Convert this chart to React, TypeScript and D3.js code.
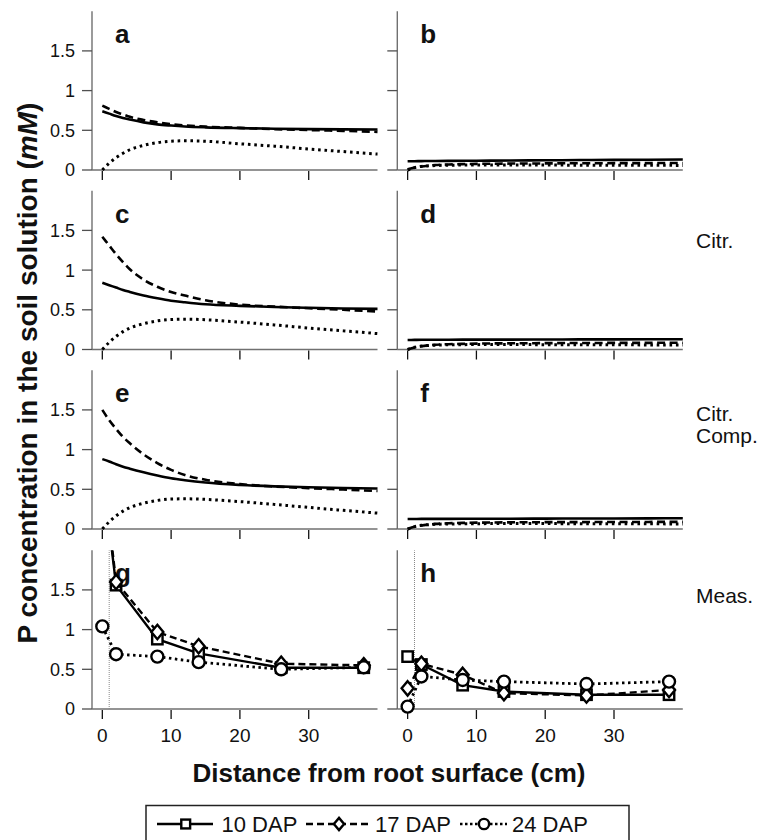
import React from 'react';
import * as d3 from 'd3';

// ---------- data ----------
const SERIES = ['10 DAP', '17 DAP', '24 DAP'];
const X_TICKS = [0, 10, 20, 30];
const Y_TICKS = [0, 0.5, 1, 1.5];
const Y_TICK_LABELS = ['0', '0.5', '1', '1.5'];
const PANEL_LETTERS = ['a', 'b', 'c', 'd', 'e', 'f', 'g', 'h'];
const ROW_LABELS = [[], ['Citr.'], ['Citr.', 'Comp.'], ['Meas.']];

// simulated profiles (panels a-f)
const xCurve = [0, 1, 2, 3, 4, 6, 8, 10, 12, 15, 20, 25, 30, 35, 40];

const a10 = [0.74, 0.71, 0.68, 0.655, 0.635, 0.6, 0.575, 0.56, 0.548, 0.537, 0.527, 0.52, 0.515, 0.512, 0.51];
const a17 = [0.81, 0.77, 0.73, 0.7, 0.67, 0.63, 0.6, 0.578, 0.562, 0.546, 0.53, 0.515, 0.503, 0.493, 0.48];
const a24 = [0, 0.085, 0.155, 0.21, 0.255, 0.31, 0.345, 0.362, 0.368, 0.362, 0.33, 0.3, 0.265, 0.232, 0.2];

const b10 = [0.11, 0.111, 0.112, 0.113, 0.114, 0.115, 0.116, 0.117, 0.118, 0.12, 0.122, 0.125, 0.128, 0.13, 0.132];
const b17 = [0.01, 0.03, 0.045, 0.055, 0.062, 0.07, 0.074, 0.077, 0.079, 0.081, 0.083, 0.085, 0.086, 0.087, 0.088];
const b24 = [0, 0.03, 0.045, 0.052, 0.056, 0.06, 0.062, 0.063, 0.063, 0.063, 0.062, 0.061, 0.06, 0.059, 0.058];

const c10 = [0.84, 0.81, 0.78, 0.75, 0.725, 0.68, 0.645, 0.615, 0.595, 0.57, 0.55, 0.535, 0.525, 0.517, 0.512];
const c17 = [1.42, 1.31, 1.2, 1.1, 1.01, 0.88, 0.79, 0.725, 0.68, 0.62, 0.565, 0.54, 0.52, 0.5, 0.478];
const c24 = [0, 0.09, 0.165, 0.225, 0.27, 0.325, 0.36, 0.378, 0.382, 0.375, 0.345, 0.31, 0.27, 0.235, 0.2];

const d10 = [0.12, 0.121, 0.122, 0.122, 0.123, 0.123, 0.124, 0.124, 0.125, 0.125, 0.126, 0.127, 0.128, 0.129, 0.13];
const d17 = [0.0, 0.025, 0.042, 0.053, 0.06, 0.067, 0.071, 0.074, 0.076, 0.078, 0.08, 0.082, 0.083, 0.084, 0.085];
const d24 = [0, 0.028, 0.043, 0.05, 0.055, 0.059, 0.061, 0.062, 0.062, 0.062, 0.061, 0.06, 0.059, 0.058, 0.057];

const e10 = [0.88, 0.85, 0.815, 0.785, 0.76, 0.715, 0.675, 0.64, 0.615, 0.585, 0.555, 0.537, 0.525, 0.517, 0.51];
const e17 = [1.5, 1.37, 1.26, 1.16, 1.08, 0.94, 0.83, 0.745, 0.68, 0.62, 0.565, 0.535, 0.515, 0.497, 0.478];
const e24 = [0, 0.09, 0.165, 0.225, 0.27, 0.325, 0.36, 0.378, 0.38, 0.373, 0.345, 0.31, 0.272, 0.235, 0.2];

const f10 = [0.125, 0.126, 0.127, 0.127, 0.128, 0.128, 0.129, 0.129, 0.13, 0.13, 0.131, 0.132, 0.133, 0.134, 0.135];
const f17 = [0.0, 0.027, 0.045, 0.056, 0.064, 0.072, 0.077, 0.08, 0.082, 0.084, 0.086, 0.087, 0.088, 0.089, 0.09];
const f24 = [0, 0.03, 0.046, 0.054, 0.059, 0.063, 0.066, 0.067, 0.068, 0.068, 0.068, 0.067, 0.066, 0.065, 0.064];

// measured profiles (panels g-h)
const xMeas = [0, 2, 8, 14, 26, 38];
const g10 = [3.0, 1.56, 0.88, 0.7, 0.52, 0.52];
const g17 = [3.1, 1.6, 0.97, 0.79, 0.57, 0.55];
const g24 = [1.04, 0.69, 0.66, 0.59, 0.5, 0.525];
const h10 = [0.66, 0.56, 0.3, 0.22, 0.18, 0.18];
const h17 = [0.26, 0.57, 0.43, 0.2, 0.17, 0.24];
const h24 = [0.03, 0.41, 0.365, 0.345, 0.315, 0.345];
const ROOT_SURFACE_X = 1;

const SIM = [
  [a10, a17, a24], [b10, b17, b24],
  [c10, c17, c24], [d10, d17, d24],
  [e10, e17, e24], [f10, f17, f24],
];
const MEAS = [[g10, g17, g24], [h10, h17, h24]];

// ---------- layout ----------
const W = 772, H = 840;
const FONT = '"Liberation Sans", Arial, Helvetica, sans-serif';
const COL_X: [number, number][] = [[92, 377.5], [397.3, 682.8]];
const ROW_Y0 = [170, 349.5, 529, 709];
const PANEL_H = 158.8;
const X_DOMAIN: [number, number] = [-1.5, 40];
const Y_DOMAIN: [number, number] = [0, 2];

const STYLES = [
  { dash: undefined as string | undefined, w: 2.6 },
  { dash: '8,4.5', w: 2.6 },
  { dash: '2.6,3.8', w: 3 },
];
const MEAS_STYLES = [
  { dash: undefined as string | undefined, w: 2.4 },
  { dash: '7,4', w: 2.4 },
  { dash: '2.5,3.5', w: 2.8 },
];

function Marker({ kind, x, y, s = 1 }: { kind: number; x: number; y: number; s?: number }) {
  const common = { fill: '#fff', stroke: '#000', strokeWidth: 2.4 };
  if (kind === 0) {
    const h = 5.2 * s;
    return <rect x={x - h} y={y - h} width={2 * h} height={2 * h} {...common} />;
  }
  if (kind === 1) {
    const hw = 6 * s, hh = 7.2 * s;
    return <path d={`M${x},${y - hh}L${x + hw},${y}L${x},${y + hh}L${x - hw},${y}Z`} {...common} />;
  }
  return <circle cx={x} cy={y} r={6 * s} {...common} />;
}

export default function App() {
  const panels: JSX.Element[] = [];
  for (let row = 0; row < 4; row++) {
    for (let col = 0; col < 2; col++) {
      const idx = row * 2 + col;
      const [x0, x1] = COL_X[col];
      const y0 = ROW_Y0[row];
      const yTop = y0 - PANEL_H;
      const x = d3.scaleLinear().domain(X_DOMAIN).range([x0, x1]);
      const y = d3.scaleLinear().domain(Y_DOMAIN).range([y0, yTop]);
      const clipId = `clip-${idx}`;
      const isMeas = row === 3;
      const lineSim = d3.line<[number, number]>().x(d => x(d[0])).y(d => y(d[1])).curve(d3.curveMonotoneX);
      const lineMeas = d3.line<[number, number]>().x(d => x(d[0])).y(d => y(d[1]));

      panels.push(
        <g key={idx}>
          <defs>
            <clipPath id={clipId}>
              <rect x={x0} y={yTop} width={x1 - x0 + 6} height={PANEL_H + 8} />
            </clipPath>
          </defs>
          {/* axes */}
          <line x1={x0} x2={x0} y1={yTop} y2={y0} stroke="#707070" strokeWidth={1.4} />
          <line x1={x0} x2={x1} y1={y0} y2={y0} stroke="#707070" strokeWidth={1.4} />
          {Y_TICKS.map((t, i) => (
            <g key={'yt' + i}>
              <line x1={x0 - 10} x2={x0} y1={y(t)} y2={y(t)} stroke="#505050" strokeWidth={1.3} />
              {col === 0 && (
                <text x={x0 - 17} y={y(t)} dy="0.36em" textAnchor="end" fontSize={18} fontFamily={FONT} fill="#111">
                  {Y_TICK_LABELS[i]}
                </text>
              )}
            </g>
          ))}
          {X_TICKS.map((t, i) => (
            <g key={'xt' + i}>
              <line x1={x(t)} x2={x(t)} y1={y0 + 1} y2={y0 + 10} stroke="#111" strokeWidth={1.3} />
              {isMeas && (
                <text x={x(t)} y={y0 + 32.5} textAnchor="middle" fontSize={19} fontFamily={FONT} fill="#111">
                  {t}
                </text>
              )}
            </g>
          ))}
          {/* panel letter */}
          <text x={x0 + 23} y={y0 - 127} fontSize={26} fontWeight="bold" fontFamily={FONT} fill="#111">
            {PANEL_LETTERS[idx]}
          </text>
          {/* data */}
          <g clipPath={`url(#${clipId})`}>
            {!isMeas &&
              SIM[idx].map((vals, si) => (
                <path
                  key={si}
                  d={lineSim(xCurve.map((xv, k) => [xv, vals[k]] as [number, number])) || ''}
                  fill="none"
                  stroke="#000"
                  strokeWidth={STYLES[si].w}
                  strokeDasharray={STYLES[si].dash}
                />
              ))}
            {isMeas && (
              <line
                x1={x(ROOT_SURFACE_X)} x2={x(ROOT_SURFACE_X)} y1={y0} y2={yTop}
                stroke="#888" strokeWidth={1} strokeDasharray="1,1"
              />
            )}
            {isMeas &&
              MEAS[col].map((vals, si) => (
                <g key={si}>
                  <path
                    d={lineMeas(xMeas.map((xv, k) => [xv, vals[k]] as [number, number])) || ''}
                    fill="none"
                    stroke="#000"
                    strokeWidth={MEAS_STYLES[si].w}
                    strokeDasharray={MEAS_STYLES[si].dash}
                  />
                  {xMeas.map((xv, k) => (
                    <Marker key={k} kind={si} x={x(xv)} y={y(vals[k])} />
                  ))}
                </g>
              ))}
          </g>
        </g>
      );
    }
  }

  // row labels on the right
  const rowLabelOffsets = [0, -102, -108, -106];
  const rowLabels = ROW_LABELS.map((lines, row) =>
    lines.map((t, li) => (
      <text key={`${row}-${li}`} x={696} y={ROW_Y0[row] + rowLabelOffsets[row] + li * 22}
        fontSize={21} fontFamily={FONT} fill="#111">
        {t}
      </text>
    ))
  );

  // legend
  const legendY = 824;
  const legendItems = [
    { x1: 157, x2: 213, mx: 185.7, tx: 221.5 },
    { x1: 306, x2: 369, mx: 339, tx: 375 },
    { x1: 460, x2: 507, mx: 484, tx: 512 },
  ];

  return (
    <svg width={W} height={H} style={{ position: 'absolute', left: 0, top: 0, background: '#fff' }}>
      <rect x={0} y={0} width={W} height={H} fill="#fff" />
      {panels}
      {rowLabels}
      {/* axis titles */}
      <text x={389} y={781.5} textAnchor="middle" fontSize={26} fontWeight="bold" fontFamily={FONT} fill="#111">
        Distance from root surface (cm)
      </text>
      <text transform="translate(37,373) rotate(-90)" textAnchor="middle" fontSize={28} fontWeight="bold" fontFamily={FONT} fill="#111">
        P concentration in the soil solution (<tspan fontStyle="italic">mM</tspan>)
      </text>
      {/* legend */}
      <rect x={146} y={805.5} width={483} height={44} fill="none" stroke="#222" strokeWidth={1.5} />
      {legendItems.map((it, i) => (
        <g key={i}>
          <line x1={it.x1} x2={it.x2} y1={legendY} y2={legendY} stroke="#000" strokeWidth={2.4}
            strokeDasharray={i === 1 ? '7,4' : i === 2 ? '2.5,2.5' : undefined} />
          <Marker kind={i} x={it.mx} y={legendY} s={0.85} />
          <text x={it.tx} y={831.5} fontSize={22} fontFamily={FONT} fill="#111">{SERIES[i]}</text>
        </g>
      ))}
    </svg>
  );
}
